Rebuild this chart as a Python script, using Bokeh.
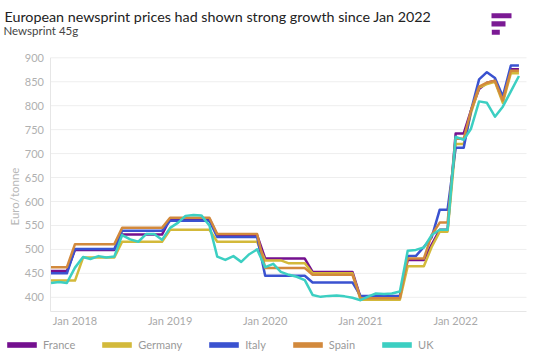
import math
import pandas as pd
from bokeh.plotting import figure
from bokeh.core.properties import value
from bokeh.models import ColumnDataSource, Range1d, Legend, LegendItem, Label
from bokeh.embed import file_html
from bokeh.resources import INLINE

TITLE = "European newsprint prices had shown strong growth since Jan 2022"
SUBTITLE = "Newsprint 45g"
Y_LABEL = "Euro/tonne"

# monthly observations, Oct 2017 .. Sep 2022
MONTHS = pd.date_range("2017-10-01", "2022-09-01", freq="MS")

FRANCE = [455, 455, 455,
          499, 499, 499, 499, 499, 499,
          531, 531, 531, 531, 531, 531,
          564, 564, 564, 564, 564, 564,
          530, 530, 530, 530, 530, 530,
          481, 481, 481, 481, 481, 481,
          453, 453, 453, 453, 453, 453,
          400, 400, 400, 400, 400, 400,
          478, 478, 478, 510, 541, 541,
          742, 742, 790, 835, 848, 852, 810, 876, 876]
GERMANY = [435, 435, 435,
           435, 483, 483, 483, 483, 483,
           516, 516, 516, 516, 516, 516,
           541, 541, 541, 541, 541, 541,
           516, 516, 516, 516, 516, 516,
           477, 477, 477, 471, 471, 471,
           450, 450, 450, 450, 450, 450,
           395, 395, 395, 395, 395, 395,
           465, 465, 465, 505, 537, 537,
           720, 720, 785, 838, 845, 850, 806, 868, 868]
ITALY = [450, 450, 450,
         501, 501, 501, 501, 501, 501,
         539, 539, 539, 539, 539, 539,
         560, 560, 560, 560, 560, 560,
         526, 526, 526, 526, 526, 526,
         445, 445, 445, 445, 445, 445,
         431, 431, 431, 431, 431, 431,
         403, 403, 403, 403, 403, 403,
         486, 486, 505, 525, 583, 583,
         712, 712, 790, 855, 870, 858, 819, 884, 884]
SPAIN = [463, 463, 463,
         511, 511, 511, 511, 511, 511,
         545, 545, 545, 545, 545, 545,
         566, 566, 566, 566, 566, 566,
         532, 532, 532, 532, 532, 532,
         461, 461, 461, 461, 461, 461,
         447, 447, 447, 447, 447, 447,
         398, 398, 398, 398, 398, 398,
         481, 481, 481, 530, 556, 556,
         731, 731, 790, 840, 848, 852, 811, 873, 873]
UK = [430, 432, 430,
      462, 484, 480, 486, 483, 485,
      530, 521, 516, 532, 532, 520,
      545, 556, 570, 572, 571, 550,
      485, 478, 486, 474, 490, 500,
      463, 470, 453, 447, 443, 436,
      405, 401, 403, 404, 402, 399,
      394, 402, 408, 407, 408, 412,
      497, 499, 504, 530, 541, 541,
      735, 729, 752, 809, 806, 777, 798, 830, 862]

SERIES = ["France", "Germany", "Italy", "Spain", "UK"]
COLORS = ["#74108f", "#d3b93a", "#3a52d0", "#d2893c", "#3ccfc2"]
Y_TICKS = [400, 450, 500, 550, 600, 650, 700, 750, 800, 850, 900]
X_TICKS = ["2018-01-01", "2019-01-01", "2020-01-01", "2021-01-01", "2022-01-01"]
X_TICK_LABELS = ["Jan 2018", "Jan 2019", "Jan 2020", "Jan 2021", "Jan 2022"]
X_START, X_END = "2017-09-29", "2022-09-30"   # extent of the plotting area
Y_START, Y_END = 370.4, 900

FONT = "Lato"
W, H = 534, 354


# ---- layout helpers: canvas pixel -> data coordinate.  The plotting area spans
# x 50..526 and y 57.3 (900) .. 311 (axis); the frame is the whole canvas.
def ms(t):
    return pd.Timestamp(t).value / 1e6


XA, XB = ms(X_START), ms(X_END)
PX_L, PX_R = 50.0, 526.0
MS_PER_PX = (XB - XA) / (PX_R - PX_L)
PY_TOP, PY_AXIS = 57.3, 311.0
UNIT_PER_PX = (Y_END - Y_START) / (PY_AXIS - PY_TOP)


def x_at(px):
    return XA + (px - PX_L) * MS_PER_PX


def y_at(py):
    return Y_START + (PY_AXIS - py) * UNIT_PER_PX


src = ColumnDataSource(dict(date=MONTHS, France=FRANCE, Germany=GERMANY,
                            Italy=ITALY, Spain=SPAIN, UK=UK))

p = figure(width=W, height=H, output_backend="svg", toolbar_location=None,
           x_axis_type="datetime", x_axis_location=None, y_axis_location=None,
           x_range=Range1d(x_at(0), x_at(W)),
           y_range=Range1d(y_at(H), y_at(0)),
           min_border=0)
p.outline_line_color = None
for g in p.grid:
    g.visible = False

n = len(Y_TICKS)
# horizontal grid lines, y and x axis lines, limited to the plotting area
p.segment(x0=[XA] * n, x1=[XB] * n, y0=Y_TICKS, y1=Y_TICKS,
          line_color="#eeeeee", line_width=1)
p.segment(x0=[XA, XA], x1=[XA, XB], y0=[Y_START, Y_START], y1=[Y_END, Y_START],
          line_color="#e6e6e6", line_width=1)

# y tick labels and axis title
p.text(x=[x_at(43.5)] * n, y=Y_TICKS, text=[str(t) for t in Y_TICKS],
       text_align="right", text_baseline="middle", text_font=value(FONT),
       text_font_size=value("11px"), text_color="#b0b0b0")
p.add_layout(Label(x=x_at(13.5), y=y_at(196), text=Y_LABEL, angle=math.pi / 2,
                   text_align="center", text_baseline="middle", text_font=FONT,
                   text_font_size="11.5px", text_color="#b8b8b8"))

# x tick labels
p.text(x=[ms(t) for t in X_TICKS], y=[y_at(319.5)] * len(X_TICKS), text=X_TICK_LABELS,
       text_align="center", text_baseline="middle", text_font=value(FONT),
       text_font_size=value("11px"), text_color="#aaaaaa")

# titles
p.add_layout(Label(x=x_at(4), y=y_at(15.5), text=TITLE, text_font=FONT,
                   text_font_size="14.3px", text_color="#222222",
                   text_baseline="alphabetic", text_align="left"))
p.add_layout(Label(x=x_at(3), y=y_at(29.5), text=SUBTITLE, text_font=FONT,
                   text_font_size="11.5px", text_color="#444444",
                   text_baseline="alphabetic", text_align="left"))

# logo
p.quad(left=[x_at(491), x_at(491), x_at(491.3)],
       right=[x_at(511), x_at(505), x_at(499.3)],
       top=[y_at(12.7), y_at(20.7), y_at(29.3)],
       bottom=[y_at(17.7), y_at(26), y_at(34.3)],
       fill_color="#7b1a94", line_color=None)

# data lines and legend swatches (swatch renderers hold one off-canvas row)
nan = float("nan")
items = []
for name, color in zip(SERIES, COLORS):
    p.line("date", name, source=src, line_color=color, line_width=2.5,
           line_join="round")
    sw = p.quad(left=[nan], right=[nan], top=[nan], bottom=[nan],
                fill_color=color, line_color=None)
    items.append(LegendItem(label=name, renderers=[sw]))

legend = Legend(items=items, orientation="horizontal", location=(3, 3),
                glyph_width=37, glyph_height=7, label_standoff=3, spacing=23,
                padding=0, margin=0, border_line_color=None, background_fill_alpha=0,
                label_text_font=FONT, label_text_font_size="11px",
                label_text_color="#999999")
p.add_layout(legend, "center")

open("out.html", "w").write(file_html(p, INLINE))
